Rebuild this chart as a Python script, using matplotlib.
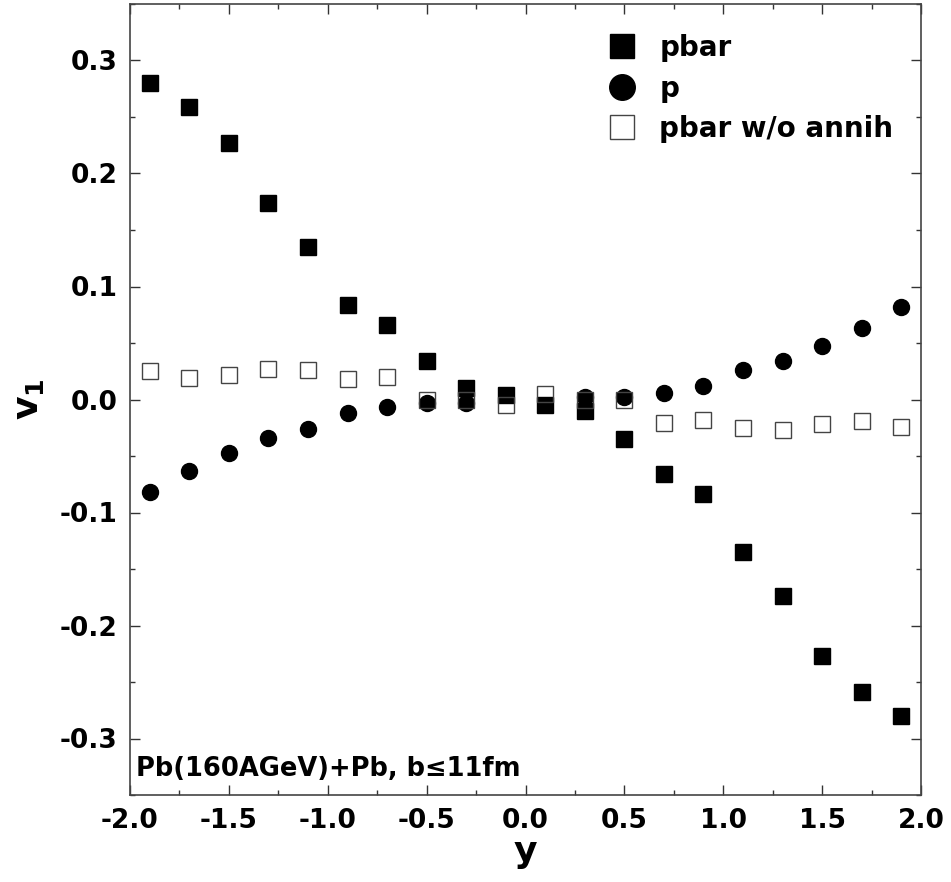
import numpy as np
import matplotlib.pyplot as plt
from matplotlib.ticker import MultipleLocator

plt.rcParams.update({
    "font.family": "DejaVu Sans",
    "font.weight": "bold",
    "axes.unicode_minus": False,
    "mathtext.default": "bf",
})

# rapidity bins
y_bins = np.array([-1.9, -1.7, -1.5, -1.3, -1.1, -0.9, -0.7, -0.5, -0.3, -0.1,
                   0.1, 0.3, 0.5, 0.7, 0.9, 1.1, 1.3, 1.5, 1.7, 1.9])

v1_pbar = [0.280, 0.259, 0.227, 0.174, 0.135, 0.084, 0.066, 0.034, 0.010, 0.004,
           -0.005, -0.010, -0.035, -0.066, -0.084, -0.135, -0.174, -0.227, -0.259, -0.280]

# protons (no visible point at +-0.1)
y_p = np.array([-1.9, -1.7, -1.5, -1.3, -1.1, -0.9, -0.7, -0.5, -0.3,
                0.3, 0.5, 0.7, 0.9, 1.1, 1.3, 1.5, 1.7, 1.9])
v1_p = [-0.082, -0.063, -0.047, -0.034, -0.026, -0.012, -0.007, -0.003, -0.003,
        0.002, 0.002, 0.006, 0.012, 0.026, 0.034, 0.047, 0.063, 0.082]

v1_noann = [0.025, 0.019, 0.022, 0.027, 0.026, 0.018, 0.020, 0.000, 0.000, -0.005,
            0.005, 0.000, 0.000, -0.021, -0.018, -0.025, -0.027, -0.022, -0.019, -0.024]


fig = plt.figure(figsize=(9.51, 8.82), dpi=100)
ax = fig.add_axes([130 / 951, 87 / 882, 791 / 951, 791 / 882])

ax.plot(y_bins, v1_pbar, linestyle="none", marker="s", ms=11, mfc="black",
        mec="black", label="pbar", zorder=3)
ax.plot(y_p, v1_p, linestyle="none", marker="o", ms=11.5, mfc="black",
        mec="black", label="p", zorder=4)
ax.plot(y_bins, v1_noann, linestyle="none", marker="s", ms=11, mfc="none",
        mec="#444444", mew=1.0, label="pbar w/o annih", zorder=5)

ax.set_xlim(-2.0, 2.0)
ax.set_ylim(-0.35, 0.35)
ax.xaxis.set_major_locator(MultipleLocator(0.5))
ax.xaxis.set_minor_locator(MultipleLocator(0.25))
ax.yaxis.set_major_locator(MultipleLocator(0.1))
ax.yaxis.set_minor_locator(MultipleLocator(0.05))
ax.xaxis.set_major_formatter(plt.FormatStrFormatter("%.1f"))
ax.yaxis.set_major_formatter(plt.FormatStrFormatter("%.1f"))

ax.tick_params(which="both", direction="in", top=True, right=True,
               labelsize=19, width=1, color="#333333")
ax.tick_params(which="major", length=7, pad=9)
ax.tick_params(which="minor", length=3.5)
for lab in ax.get_xticklabels() + ax.get_yticklabels():
    lab.set_fontweight("bold")
for sp in ax.spines.values():
    sp.set_linewidth(1.2)
    sp.set_color("#444444")

ax.set_xlabel("y", fontsize=26, fontweight="bold", labelpad=1)
ax.set_ylabel(r"$\mathbf{v_1}$", fontsize=26, labelpad=10)

ax.text(-1.97, -0.327, "Pb(160AGeV)+Pb, b\u226411fm", fontsize=18.5,
        fontweight="bold", ha="left", va="center")

ax.legend(loc="upper right", bbox_to_anchor=(1.0, 0.997), frameon=False,
          fontsize=20, handletextpad=0.55, handlelength=1.6,
          labelspacing=0.45, borderaxespad=0.6, markerscale=1.6)

fig.savefig("out.png", dpi=100)
